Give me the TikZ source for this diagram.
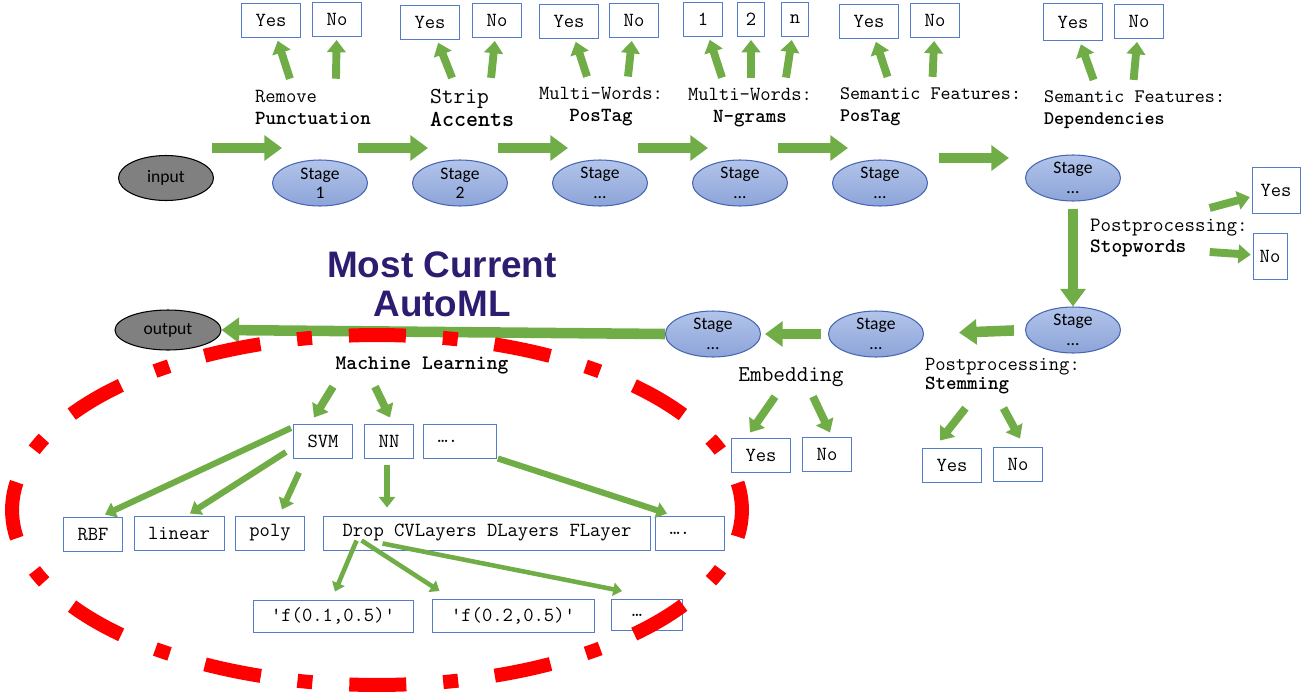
\documentclass[tikz,border=0pt]{standalone}
\usepackage{fontspec}
\setmainfont{Carlito}
\newcommand\monof{\ttfamily}
\newfontfamily\titlef{Liberation Sans}
\usetikzlibrary{positioning,shapes.geometric,arrows.meta,calc}

\definecolor{stagetop}{RGB}{178,196,234}
\definecolor{stagefill}{RGB}{140,164,216}
\definecolor{stageline}{RGB}{72,102,178}
\definecolor{endfill}{RGB}{128,128,128}
\definecolor{boxblue}{RGB}{84,124,200}
\definecolor{arrowgreen}{RGB}{112,173,71}
\definecolor{ringred}{RGB}{255,0,0}
\definecolor{titleblue}{RGB}{46,28,112}

\tikzset{
  stage/.style={ellipse, draw=stageline, top color=stagetop, bottom color=stagefill, line width=0.6pt,
    minimum width=1.9cm, minimum height=0.92cm, inner sep=0pt, align=center,
    font=\fontsize{10}{11}\selectfont},
  endpt/.style={ellipse, draw=black, fill=endfill, line width=0.6pt,
    minimum width=1.9cm, minimum height=0.9cm, inner sep=0pt,
    font=\fontsize{10}{12}\selectfont},
  optbox/.style={rectangle, draw=boxblue, line width=0.55pt, fill=white,
    minimum height=0.68cm, inner xsep=8pt, inner ysep=1pt,
    font=\monof\fontsize{11.4}{13}\selectfont},
  steplab/.style={align=left, anchor=west, inner sep=1pt,
    font=\monof\fontsize{11.4}{12.5}\selectfont},
  bigarrow/.style={draw=arrowgreen, line width=6pt, -{Triangle[length=10pt,width=14pt]}},
  garrow/.style={draw=arrowgreen, line width=4.5pt, -{Triangle[length=7pt,width=10.5pt]}},
  thinarrow/.style={draw=arrowgreen, line width=3.5pt, -{Triangle[length=6pt,width=9pt]}},
  finearrow/.style={draw=arrowgreen, line width=2.6pt, -{Triangle[length=5pt,width=7.5pt]}},
  ring/.style={draw=ringred, line width=0.28cm,
    dash pattern=on 1.14cm off 0.74cm on 0.3cm off 0.74cm, dash phase=0.59cm}
}

\begin{document}
\begin{tikzpicture}[x=0.02cm,y=-0.02cm]
\useasboundingbox (0,0) rectangle (1302,700);

% pipeline stages
\node[endpt] (in) at (166,178) {input};
\node[stage] (s1) at (320,183) {Stage\\1};
\node[stage] (s2) at (460,183) {Stage\\2};
\node[stage] (s3) at (600,183) {Stage\\…};
\node[stage] (s4) at (740,183) {Stage\\…};
\node[stage] (s5) at (880,183) {Stage\\…};
\node[stage] (s6) at (1073,178) {Stage\\…};
\node[stage] (s7) at (1073,330) {Stage\\…};
\node[stage] (s8) at (876,334) {Stage\\…};
\node[stage] (s9) at (713,334) {Stage\\…};
\node[endpt, minimum width=2.12cm, minimum height=0.8cm] (out) at (168,330) {output};

\draw[bigarrow] ($(in.east)+(-2,-30)$) -- ($(s1.west)+(10,-35)$);
\foreach \a/\b in {s1/s2,s2/s3,s3/s4,s4/s5}
	\draw[bigarrow] ($(\a.east)+(-10,-35)$) -- ($(\b.west)+(16,-35)$);
\draw[bigarrow] ($(s5.east)+(11,-25)$) -- ($(s6.west)+(-16,-20)$);
\draw[bigarrow, shorten <=0.14cm] (s6.south) -- (s7.north);
\draw[bigarrow, shorten <=0.22cm, shorten >=0.7cm] (s7.west) -- (s8.east);
\draw[bigarrow, shorten <=0.14cm, shorten >=0.08cm] (s8.west) -- (s9.east);
\draw[bigarrow] (s9.west) -- (out.east);

% step labels
\node[steplab] (lab1) at (253,107) {Remove\\\textbf{Punctuation}};
\node[steplab, font=\monof\fontsize{13}{13.5}\selectfont] (lab2) at (428,108) {Strip\\\textbf{Accents}};
\node[steplab, anchor=center, align=center] (lab3) at (601,107) {Multi-Words:\\\textbf{PosTag}};
\node[steplab, anchor=center, align=center] (lab4) at (750,108) {Multi-Words:\\\textbf{N-grams}};
\node[steplab, font=\monof\fontsize{10.9}{12.5}\selectfont] (lab5) at (838,107) {Semantic Features:\\\textbf{PosTag}};
\node[steplab, font=\monof\fontsize{10.9}{12.5}\selectfont] (lab6) at (1042,110) {Semantic Features:\\\textbf{Dependencies}};
\node[steplab, font=\monof\fontsize{11.6}{12}\selectfont] (lab7) at (1088,238) {Postprocessing:\\\textbf{Stopwords}};
\node[steplab, font=\monof\fontsize{11.4}{11}\selectfont] (lab8) at (923,376) {Postprocessing:\\\textbf{Stemming}};
\node[steplab, anchor=center, font=\monof\fontsize{12.9}{13}\selectfont] (lab9) at (791,377) {Embedding};
\node[steplab, anchor=center, font=\monof\fontsize{11.7}{12}\selectfont] (labml) at (422,366) {\textbf{Machine Learning}};

% option boxes, top row
\node[optbox] (y1) at (271,20) {Yes};
\node[optbox] (n1) at (337,19) {No};
\node[optbox] (y2) at (430,22) {Yes};
\node[optbox] (n2) at (497,20) {No};
\node[optbox] (y3) at (569,21) {Yes};
\node[optbox] (n3) at (634,20) {No};
\node[optbox] (g1) at (703,19) {1};
\node[optbox, inner xsep=5pt] (g2) at (751,19) {2};
\node[optbox, inner xsep=5pt] (gn) at (795,19) {n};
\node[optbox] (y5) at (869,21) {Yes};
\node[optbox] (n5) at (935,20) {No};
\node[optbox, minimum height=0.74cm] (y6) at (1073,22) {Yes};
\node[optbox] (n6) at (1139,21) {No};
\node[optbox, inner xsep=2pt, minimum width=0.96cm, minimum height=0.92cm] (y7) at (1276,190) {Yes};
\node[optbox, inner xsep=2pt, minimum width=0.68cm, minimum height=0.92cm] (n7) at (1270,256) {No};
\node[optbox] (y8) at (952,465) {Yes};
\node[optbox] (n8) at (1018,464) {No};
\node[optbox] (y9) at (761,455) {Yes};
\node[optbox] (n9) at (827,454) {No};

\foreach \d/\b in {-23/y1,23/n1}
	\draw[garrow, shorten >=2pt] ($(lab1.north)+(\d,-9)$) -- (\b);
\foreach \d/\b in {-20/y2,19/n2}
	\draw[garrow, shorten >=2pt] ($(lab2.north)+(\d,-9)$) -- (\b);
\foreach \d/\b in {-14/y3,27/n3}
	\draw[garrow, shorten >=2pt] ($(lab3.north)+(\d,-9)$) -- (\b);
\foreach \d/\b in {-28/g1,1/g2,36/gn}
	\draw[garrow, shorten >=2pt] ($(lab4.north)+(\d,-9)$) -- (\b);
\foreach \d/\b in {-43/y5,2/n5}
	\draw[garrow, shorten >=2pt] ($(lab5.north)+(\d,-9)$) -- (\b);
\foreach \d/\b in {-41/y6,-1/n6}
	\draw[garrow, shorten >=2pt] ($(lab6.north)+(\d,-9)$) -- (\b);
\draw[garrow, shorten >=1pt] ($(lab7.east)+(-40,-30)$) -- (y7);
\draw[garrow, shorten >=1pt] ($(lab7.east)+(-40,14)$) -- (n7);
\draw[garrow] ($(lab8.south)+(-37,12)$) -- ($(y8.north)+(-12,-7)$);
\draw[garrow] ($(lab8.south)+(1,12)$) -- ($(n8.north)+(2,-8)$);
\draw[garrow] ($(lab9.south)+(-16,8)$) -- ($(y9.north)+(-11,-5)$);
\draw[garrow] ($(lab9.south)+(22,8)$) -- ($(n9.north)+(3,-4)$);

% machine learning part
\node[align=center, text=titleblue, font=\titlef\bfseries\fontsize{21}{22}\selectfont] (title) at (442,284) {Most Current\\AutoML};

\node[optbox] (svm) at (323,441) {SVM};
\node[optbox] (nn) at (389,441) {NN};
\node[optbox, minimum width=1.34cm] (dt1) at (460,441) {….\hspace*{1.2em}};
\node[optbox] (rbf) at (93,534) {RBF};
\node[optbox] (lin) at (179,533) {linear};
\node[optbox] (poly) at (270,533) {poly};
\node[optbox, minimum width=6.56cm] (drop) at (487,533) {Drop CVLayers DLayers FLayer};
\node[optbox, minimum width=1.38cm] (dt2) at (690,533) {….\hspace*{1em}};
\node[optbox, minimum width=3.2cm, minimum height=0.64cm] (f1) at (333,616) {'f(0.1,0.5)'};
\node[optbox, minimum width=3.24cm, minimum height=0.66cm] (f2) at (513,616) {'f(0.2,0.5)'};
\node[optbox, minimum width=1.42cm, minimum height=0.62cm] (dt3) at (647,615) {…\hspace*{1em}};

\draw[garrow] ($(labml.south)+(-89,10)$) -- ($(svm.north)+(-9,-6)$);
\draw[garrow] ($(labml.south)+(-47,10)$) -- ($(nn.north)+(1,-6)$);
\draw[thinarrow] ($(svm.west)+(-2,-13)$) -- ($(rbf.north)+(12,-2)$);
\draw[thinarrow] ($(svm.west)+(-7,11)$) -- ($(lin.north)+(11,-2)$);
\draw[thinarrow] ($(svm.south)+(-24,14)$) -- ($(poly.north)+(12,-6)$);
\draw[thinarrow] ($(nn.south)+(-2,7)$) -- ($(nn.south |- drop.north)+(-2,-8)$);
\draw[thinarrow] ($(dt1.south east)+(1,0)$) -- ($(dt2.north west)+(12,-2)$);
\draw[finearrow] ($(drop.south west)+(34,-10)$) -- ($(f1.north)+(2,-8)$);
\draw[finearrow] ($(drop.south west)+(39,-10)$) -- ($(f2.north west)+(8,-8)$);
\draw[finearrow] ($(drop.south west)+(60,-7)$) -- ($(dt3.north west)+(11,-8)$);

% dash-dot ring
\draw[ring] (377,510) ellipse [x radius=7.3cm, y radius=3.5cm];

\end{tikzpicture}
\end{document}
